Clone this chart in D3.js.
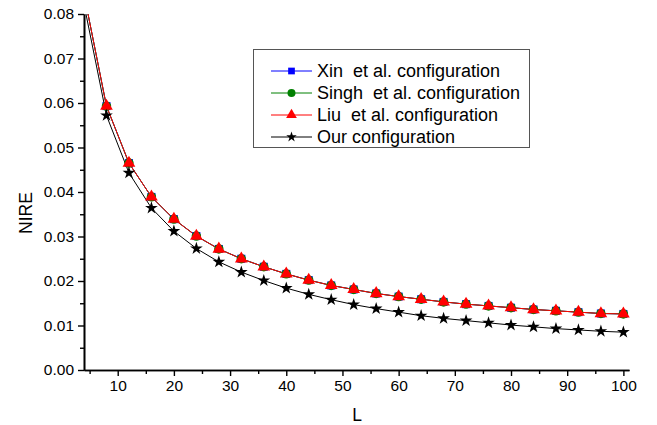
<!DOCTYPE html>
<html>
<head>
<meta charset="utf-8">
<script src="https://cdn.jsdelivr.net/npm/d3@7"></script>
<style>
  body { margin: 0; background: #fff; }
  svg { display: block; font-family: "Liberation Sans", Arial, sans-serif; }
</style>
</head>
<body>
<svg id="chart" width="657" height="425"></svg>
<script>
// ---- data ----
const L = [4, 8, 12, 16, 20, 24, 28, 32, 36, 40, 44, 48, 52, 56, 60, 64, 68, 72, 76, 80, 84, 88, 92, 96, 100];
const xinValues   = [0.0845, 0.0593, 0.0465, 0.0389, 0.0339, 0.0301, 0.0272, 0.0250, 0.0232, 0.0216, 0.0202, 0.0190, 0.0181, 0.0172, 0.0165, 0.0159, 0.0153, 0.0148, 0.0144, 0.0140, 0.0136, 0.0133, 0.0130, 0.0127, 0.0126];
const singhValues = [0.0845, 0.0593, 0.0465, 0.0389, 0.0339, 0.0301, 0.0272, 0.0250, 0.0232, 0.0216, 0.0202, 0.0190, 0.0181, 0.0172, 0.0165, 0.0159, 0.0153, 0.0148, 0.0144, 0.0140, 0.0136, 0.0133, 0.0130, 0.0127, 0.0126];
const liuValues   = [0.0845, 0.0593, 0.0465, 0.0389, 0.0339, 0.0301, 0.0272, 0.0250, 0.0232, 0.0216, 0.0202, 0.0190, 0.0181, 0.0172, 0.0165, 0.0159, 0.0153, 0.0148, 0.0144, 0.0140, 0.0136, 0.0133, 0.0130, 0.0127, 0.0126];
const ourValues   = [0.0822, 0.0572, 0.0443, 0.0364, 0.0312, 0.0273, 0.0243, 0.0220, 0.0201, 0.0184, 0.0170, 0.0158, 0.0147, 0.0138, 0.0130, 0.0122, 0.0116, 0.0111, 0.0106, 0.0101, 0.0097, 0.0093, 0.0090, 0.0087, 0.0085];
const seriesNames = ["Xin  et al. configuration", "Singh  et al. configuration", "Liu  et al. configuration", "Our configuration"];
const xTicks = [10, 20, 30, 40, 50, 60, 70, 80, 90, 100];
const yTicks = [0.00, 0.01, 0.02, 0.03, 0.04, 0.05, 0.06, 0.07, 0.08];

const series = [
  { name: seriesNames[0], values: xinValues,   color: "#0000ff", symbol: d3.symbolSquare,   size: 64, lsize: 45 },
  { name: seriesNames[1], values: singhValues, color: "#008000", symbol: d3.symbolCircle,   size: 70, lsize: 50 },
  { name: seriesNames[2], values: liuValues,   color: "#ff0000", symbol: d3.symbolTriangle, size: 70, lsize: 50 },
  { name: seriesNames[3], values: ourValues,   color: "#000000", symbol: d3.symbolStar,     size: 50, lsize: 34 }
];

const svg = d3.select("#chart");
const pLeft = 84, pRight = 629, pTop = 14, pBottom = 370;

const x = d3.scaleLinear().domain([4, 101]).range([pLeft, pRight]);
const y = d3.scaleLinear().domain([0, 0.08]).range([pBottom, pTop]);

svg.append("defs").append("clipPath").attr("id", "clip")
  .append("rect").attr("x", pLeft).attr("y", pTop).attr("width", pRight - pLeft + 8).attr("height", pBottom - pTop);

// axes
const xAxis = d3.axisBottom(x).tickValues(xTicks).tickSize(6).tickSizeOuter(0).tickPadding(4).tickFormat(d3.format("d"));
const xMinor = d3.axisBottom(x).tickValues(d3.range(5, 101, 10)).tickSize(4).tickSizeOuter(0).tickFormat("");
const yAxis = d3.axisLeft(y).tickValues(yTicks).tickSize(6).tickSizeOuter(0).tickPadding(4).tickFormat(d3.format(".2f"));
const yMinor = d3.axisLeft(y).tickValues(d3.range(0.005, 0.08, 0.01)).tickSize(4).tickSizeOuter(0).tickFormat("");

function styleAxis(g) {
  g.selectAll("path.domain").attr("stroke", "#000").attr("stroke-width", 1.6);
  g.selectAll(".tick line").attr("stroke", "#000").attr("stroke-width", 1.4);
  g.selectAll(".tick text").attr("font-size", 15.5).attr("fill", "#000")
    .attr("font-family", "'Liberation Sans', Arial, sans-serif");
}
svg.append("g").attr("transform", `translate(0,${pBottom})`).call(xMinor).call(styleAxis);
svg.append("g").attr("transform", `translate(0,${pBottom})`).call(xAxis).call(styleAxis);
svg.append("g").attr("transform", `translate(${pLeft},0)`).call(yMinor).call(styleAxis);
svg.append("g").attr("transform", `translate(${pLeft},0)`).call(yAxis).call(styleAxis);

// axis titles
svg.append("text").attr("x", 357).attr("y", 421).attr("text-anchor", "middle")
  .attr("font-size", 17.5).text("L");
svg.append("text").attr("transform", "translate(32,213) rotate(-90)").attr("text-anchor", "middle")
  .attr("font-size", 17.5).text("NIRE");

// lines and markers
const plot = svg.append("g").attr("clip-path", "url(#clip)");
const line = d3.line().x((d, i) => x(L[i])).y(d => y(d));
series.forEach(s => {
  plot.append("path").datum(s.values).attr("fill", "none").attr("stroke", s.color)
    .attr("stroke-width", 1).attr("d", line);
});
series.forEach(s => {
  plot.selectAll(null).data(s.values).join("path")
    .attr("transform", (d, i) => `translate(${x(L[i])},${y(d)})`)
    .attr("d", d3.symbol().type(s.symbol).size(s.size))
    .attr("fill", s.color);
});

// legend
const lg = svg.append("g");
lg.append("rect").attr("x", 253.5).attr("y", 49.5).attr("width", 276).attr("height", 98)
  .attr("fill", "#fff").attr("stroke", "#555").attr("stroke-width", 1);
const ly = [71, 93, 115, 137];
series.forEach((s, i) => {
  lg.append("line").attr("x1", 271).attr("x2", 312).attr("y1", ly[i]).attr("y2", ly[i])
    .attr("stroke", s.color).attr("stroke-width", 1);
  lg.append("path").attr("transform", `translate(291.5,${ly[i]})`)
    .attr("d", d3.symbol().type(s.symbol).size(s.lsize)).attr("fill", s.color);
  lg.append("text").attr("x", 317).attr("y", ly[i]).attr("dy", "0.36em")
    .attr("font-size", 18).attr("xml:space", "preserve").style("white-space", "pre").text(s.name);
});
</script>
</body>
</html>
